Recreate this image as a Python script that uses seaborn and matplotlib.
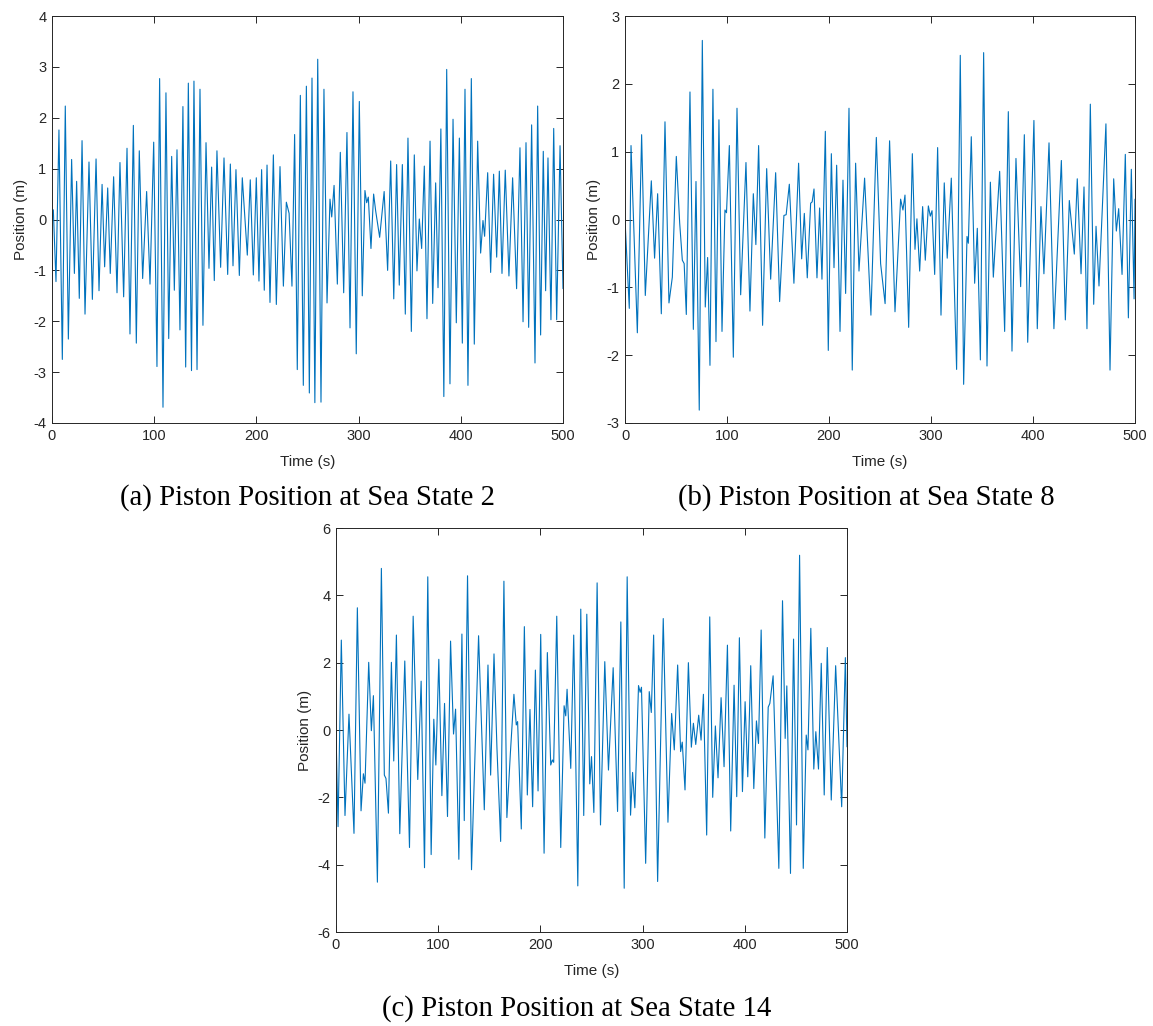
import numpy as np
import pandas as pd
import matplotlib
matplotlib.use("Agg")
import matplotlib.pyplot as plt
import seaborn as sns

# peaks and troughs, (time s, position m)
t_ss2 = [0, 1.3, 3.9, 6.8, 10.1, 13.0, 16.0, 19.2, 21.9, 24.1, 26.7, 29.4, 32.3, 36.2, 39.5, 43.1,
         46.0, 49.0, 51.5, 54.5, 57.0, 60.3, 63.6, 66.5, 70.1, 73.4, 76.3, 79.6, 82.5, 85.4, 88.7,
         92.6, 95.9, 99.5, 102.7, 105.3, 108.6, 111.5, 114.2, 117.1, 119.7, 122.3, 125.2, 128.1,
         130.8, 133.4, 136.5, 138.9, 141.9, 144.8, 147.7, 150.7, 153.6, 156.2, 158.8, 161.4, 165.0,
         168.3, 171.9, 174.5, 177.1, 180.0, 183.3, 186.2, 191.1, 194.0, 197.0, 199.9, 202.5, 205.1,
         207.7, 210.4, 213.3, 216.6, 219.5, 223.1, 226.4, 229.3, 232.0, 234.8, 237.4, 240.0, 243.0,
         245.9, 248.9, 251.8, 254.4, 257.2, 260.0, 263.2, 266.1, 269.1, 272.0, 273.7, 276.0, 279.2,
         282.1, 285.4, 288.6, 291.6, 294.5, 297.7, 300.7, 303.6, 306.2, 307.9, 309.5, 312.1, 314.7,
         316.7, 320.6, 325.0, 328.4, 331.4, 334.4, 337.2, 339.8, 342.8, 345.7, 348.3, 351.6, 354.5,
         357.1, 359.4, 361.7, 364.3, 366.9, 369.9, 372.5, 375.4, 377.7, 380.5, 383.4, 386.2, 389.4,
         392.4, 395.6, 398.6, 401.5, 404.1, 407.0, 410.3, 413.2, 416.5, 419.4, 421.7, 423.3, 426.3,
         429.2, 432.1, 435.1, 437.7, 440.3, 443.5, 447.1, 450.7, 454.6, 457.9, 460.9, 463.8, 466.4,
         469.3, 472.6, 475.2, 478.1, 480.7, 483.0, 485.3, 488.2, 490.9, 493.8, 497.1, 500]
x_ss2 = [0.0, 0.19, -1.22, 1.76, -2.75, 2.23, -2.35, 1.18, -1.06, 0.75, -1.55, 1.55, -1.86, 1.13, -1.57, 1.19,
         -1.40, 0.69, -0.93, 0.62, -1.06, 0.84, -1.44, 1.12, -1.52, 1.40, -2.25, 1.85, -2.43, 1.35, -1.16,
         0.55, -1.27, 1.52, -2.89, 2.77, -3.69, 2.49, -2.34, 1.24, -1.39, 1.37, -2.17, 2.22,
         -2.90, 2.68, -2.97, 2.72, -2.95, 2.56, -2.08, 1.51, -0.96, 1.03, -1.20, 1.35, -0.94,
         1.21, -1.08, 1.09, -0.91, 0.98, -1.10, 0.82, -0.70, 0.78, -1.09, 0.82, -1.21, 0.98,
         -1.39, 1.07, -1.63, 1.27, -1.67, 1.04, -1.31, 0.34, 0.12, -1.31, 1.67, -2.95, 2.44,
         -3.26, 2.62, -3.41, 2.78, -3.60, 3.15, -3.59, 2.56, -1.64, 0.40, 0.05, 0.67, -1.27,
         1.32, -1.44, 1.71, -2.13, 2.51, -2.64, 2.32, -1.50, 0.57, 0.33, 0.44, -0.57, 0.50,
         0.17, -0.35, 0.55, -1.00, 1.15, -1.56, 1.08, -1.29, 1.08, -1.86, 1.60, -2.20, 1.27,
         -1.01, 0.01, -0.57, 1.05, -1.95, 1.54, -1.65, 0.72, -1.34, 1.78, -3.48, 2.95, -3.23,
         1.97, -2.03, 1.60, -2.43, 2.56, -3.26, 2.77, -2.45, 1.54, -0.66, -0.02, -0.33, 0.92,
         -1.04, 0.89, -0.74, 0.95, -1.06, 0.97, -1.11, 0.82, -1.36, 1.41, -2.01, 1.51, -2.12,
         1.86, -2.82, 2.23, -2.27, 1.34, -1.40, 1.21, -1.97, 1.79, -1.97, 1.45, -1.36]

t_ss8 = [0, 4.2, 5.9, 12.1, 16.3, 19.9, 25.8, 29.0, 32.0, 35.6, 39.2, 43.1, 46.4, 50.3, 53.6, 56.2,
         58.0, 60.1, 63.7, 67.0, 69.6, 72.8, 75.8, 78.7, 81.0, 83.3, 86.2, 89.2, 92.1, 95.1, 98.0,
         99.5, 102.3, 106.2, 109.8, 113.4, 118.6, 122.5, 125.8, 128.3, 131.0, 134.9, 138.9, 142.8,
         147.7, 151.6, 155.8, 158.0, 161.1, 165.6, 170.2, 173.2, 175.8, 178.7, 182.0, 183.5, 185.3,
         188.2, 190.8, 193.1, 196.4, 199.3, 202.3, 204.9, 207.5, 210.8, 213.7, 216.3, 219.6, 222.8,
         226.1, 229.4, 234.9, 241.1, 246.4, 250.6, 255.0, 259.4, 264.7, 270.2, 272.5, 274.5, 278.1,
         281.7, 284.3, 286.2, 288.9, 291.8, 294.4, 297.4, 299.3, 301.0, 303.6, 306.5, 309.8, 313.0,
         315.9, 319.9, 325.1, 328.7, 332.0, 335.3, 336.6, 339.5, 342.8, 345.4, 348.4, 351.6, 354.9,
         358.2, 361.1, 367.3, 372.2, 375.8, 379.4, 383.3, 387.9, 391.5, 394.8, 400.9, 404.2, 407.8,
         410.7, 415.7, 420.5, 427.8, 431.7, 435.6, 440.5, 443.4, 447.1, 450.0, 452.9, 456.2, 459.5,
         461.8, 464.7, 471.5, 475.5, 479.1, 481.7, 484.0, 487.3, 490.5, 493.5, 496.4, 499.1, 500]
x_ss8 = [0.0, -1.31, 1.09, -1.67, 1.25, -1.12, 0.57, -0.57, 0.38, -1.39, 1.44, -1.23, -0.85, 0.93, -0.05, -0.60,
         -0.65, -1.40, 1.88, -1.62, 0.56, -2.81, 2.64, -1.29, -0.56, -2.15, 1.92, -1.80, 1.47, -1.65, 0.14,
         0.10, 1.09, -2.03, 1.64, -1.11, 0.84, -1.35, 0.38, -0.37, 1.09, -1.56, 0.75, -0.88,
         0.69, -1.21, 0.06, 0.07, 0.52, -0.94, 0.83, -0.58, 0.09, -0.86, 0.24, 0.26, 0.45,
         -0.86, 0.17, -0.88, 1.30, -1.93, 0.97, -0.71, 0.80, -1.65, 0.58, -1.09, 1.64, -2.22,
         0.83, -0.76, 0.61, -1.41, 1.21, -0.65, -1.24, 1.16, -1.36, 0.30, 0.14, 0.36, -1.59,
         0.97, -0.44, 0.01, -0.76, 0.19, -0.60, 0.20, 0.05, 0.13, -0.81, 1.06, -1.41, 0.54,
         -0.57, 0.61, -2.21, 2.42, -2.43, -0.25, -0.35, 1.22, -0.94, -0.13, -2.07, 2.46, -2.16,
         0.55, -0.85, 0.71, -1.65, 1.59, -1.94, 0.90, -0.99, 1.25, -1.81, 1.46, -1.61, 0.19,
         -0.80, 1.13, -1.61, 0.87, -1.48, 0.28, -0.51, 0.60, -0.80, 0.48, -1.61, 1.70, -1.25,
         -0.10, -0.98, 1.41, -2.22, 0.60, -0.17, 0.16, -0.81, 0.96, -1.45, 0.74, -1.17, 0.30]

t_ss14 = [0, 2.0, 5.2, 8.8, 12.7, 17.6, 20.9, 24.5, 26.8, 28.4, 32.0, 34.6, 36.6, 40.5, 44.4, 47.3,
          48.9, 51.3, 54.2, 56.5, 59.1, 62.4, 67.3, 71.9, 75.5, 80.0, 83.3, 86.6, 89.8, 93.1, 95.7,
          97.7, 100.6, 103.6, 106.2, 109.1, 112.1, 115.0, 117.0, 120.2, 123.2, 125.5, 128.7, 132.6,
          139.5, 145.1, 148.7, 151.3, 154.6, 157.5, 161.1, 164.3, 167.2, 170.6, 174.1, 176.4, 177.7,
          181.3, 184.3, 187.2, 189.8, 192.4, 195.1, 197.7, 200.3, 203.6, 206.8, 210.1, 211.7, 213.0,
          216.0, 219.9, 223.2, 224.8, 226.1, 229.7, 232.6, 236.6, 239.5, 242.4, 245.4, 248.3, 250.0,
          252.3, 255.5, 258.8, 263.0, 266.6, 271.2, 275.5, 278.7, 282.0, 284.9, 288.2, 290.2, 292.4,
          296.0, 297.6, 298.9, 303.0, 306.5, 308.5, 310.8, 314.7, 320.2, 324.8, 328.4, 331.0, 334.3,
          337.2, 338.8, 341.5, 344.8, 347.7, 349.7, 352.0, 354.9, 357.2, 359.5, 362.7, 365.7, 368.6,
          371.2, 373.8, 376.8, 379.7, 383.0, 386.2, 389.5, 392.1, 394.7, 397.7, 400.3, 402.9, 405.8,
          408.8, 411.4, 413.4, 416.0, 419.6, 422.9, 424.5, 427.7, 433.3, 436.9, 439.5, 441.1, 444.7,
          447.7, 450.6, 453.6, 457.2, 460.1, 461.8, 464.6, 467.5, 469.5, 472.1, 474.8, 477.7, 480.7,
          484.6, 488.9, 494.8, 498.4, 500]
x_ss14 = [-0.04, -2.87, 2.67, -2.54, 0.47, -3.07, 3.63, -2.40, -1.30, -1.58, 2.01, -0.02, 1.02, -4.52, 4.80, -1.34,
          -1.44, -2.47, 2.01, -0.92, 2.82, -3.08, 2.05, -3.49, 3.38, -1.47, 1.45, -4.09, 4.55, -3.70, 0.32,
          -1.04, 2.10, -1.95, 0.79, -2.57, 2.64, -0.12, 0.62, -3.84, 2.85, -2.69, 4.58, -4.15,
          2.80, -2.37, 1.93, -1.34, 2.26, -0.55, -3.31, 4.42, -2.60, -0.70, 1.06, 0.15, 0.25,
          -2.94, 3.07, -1.93, 0.61, -2.28, 1.78, -1.81, 2.84, -3.66, 2.30, -1.04, -0.89, -0.96,
          3.38, -3.49, 0.72, 0.42, 1.21, -1.14, 2.82, -4.63, 3.59, -2.54, 3.44, -1.60, -0.79,
          -2.45, 4.37, -2.82, 2.03, -1.19, 1.85, -2.42, 3.21, -4.70, 4.55, -2.53, -1.26, -2.31,
          1.32, 1.12, 1.27, -3.96, 1.14, 0.52, 2.82, -4.50, 3.31, -2.74, 0.49, -0.59, 1.93,
          -0.64, -0.36, -1.78, 2.00, -0.51, 0.20, -0.43, 0.44, -0.30, 1.06, -3.12, 3.36, -2.00,
          0.12, -1.42, 0.96, -1.09, 2.52, -3.00, 1.33, -1.98, 2.74, -1.83, 0.84, -1.39, 1.91,
          -1.74, 0.27, -0.40, 2.97, -3.21, 0.68, 0.79, 1.61, -4.11, 3.84, -0.25, 1.31, -4.26,
          2.70, -2.82, 5.19, -4.11, -0.15, -0.59, 3.02, -1.16, -0.05, -1.16, 1.98, -1.93, 2.45,
          -2.08, 1.91, -2.28, 2.15, -0.50]

captions = ["(a) Piston Position at Sea State 2",
            "(b) Piston Position at Sea State 8",
            "(c) Piston Position at Sea State 14"]
y_limits = [(-4, 4), (-3, 3), (-6, 6)]
y_steps = [1, 1, 2]

sns.set_style("ticks")
plt.rcParams["font.family"] = ["Liberation Sans", "DejaVu Sans"]
plt.rcParams["axes.unicode_minus"] = False

fig = plt.figure(figsize=(11.53, 10.26), dpi=100)
boxes = [
    [52 / 1153, 1 - 423 / 1026, 511 / 1153, 407 / 1026],
    [625 / 1153, 1 - 423 / 1026, 510 / 1153, 407 / 1026],
    [336 / 1153, 1 - 932 / 1026, 511 / 1153, 404 / 1026],
]
series = [(t_ss2, x_ss2), (t_ss8, x_ss8), (t_ss14, x_ss14)]
cap_pos = [(307, 498), (866, 498), (577, 1009)]

for i in range(3):
    ax = fig.add_axes(boxes[i])
    df = pd.DataFrame({"Time (s)": series[i][0], "Position (m)": series[i][1]})
    sns.lineplot(data=df, x="Time (s)", y="Position (m)", ax=ax,
                 color="#0072BD", linewidth=0.8, sort=False, estimator=None)
    lo, hi = y_limits[i]
    ax.set_xlim(0, 500)
    ax.set_ylim(lo, hi)
    ax.set_xticks(np.arange(0, 501, 100))
    ax.set_yticks(np.arange(lo, hi + 0.1, y_steps[i]))
    ax.tick_params(direction="in", top=True, right=True, length=5, width=0.7,
                   labelsize=10.5, colors="#262626", pad=4)
    for s in ax.spines.values():
        s.set_visible(True)
        s.set_color("#262626")
        s.set_linewidth(0.7)
    ax.set_xlabel("Time (s)", fontsize=11, color="#262626", labelpad=9)
    ax.set_ylabel("Position (m)", fontsize=11, color="#262626", labelpad=4)
    fig.text(cap_pos[i][0] / 1153, 1 - cap_pos[i][1] / 1026, captions[i], color="black",
             ha="center", va="center", fontsize=20.7, family=["Liberation Serif", "DejaVu Serif"])

fig.savefig("out.png", dpi=100)
